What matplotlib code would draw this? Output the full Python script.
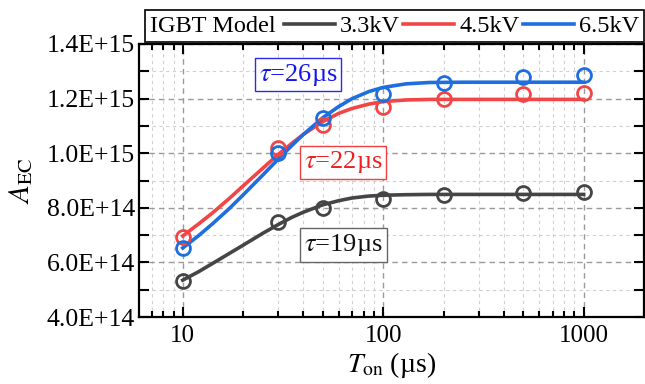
import matplotlib
matplotlib.use("Agg")
import matplotlib.pyplot as plt
from matplotlib.ticker import FixedLocator, MultipleLocator, FuncFormatter, LogLocator, NullFormatter
from matplotlib.offsetbox import HPacker

plt.rcParams['font.family'] = ['Liberation Serif', 'DejaVu Serif']
plt.rcParams['mathtext.fontset'] = 'stix'

# ---- data (A_EC in units of 1E14) ----
ton_pts = [10, 30, 50, 100, 200, 500, 1000]
a_33 = [5.33, 7.47, 7.99, 8.31, 8.47, 8.55, 8.59]
a_45 = [6.94, 10.18, 11.03, 11.69, 11.99, 12.17, 12.20]
a_65 = [6.52, 10.00, 11.29, 12.17, 12.57, 12.79, 12.86]

# fitted curves
ton_fit = [10, 12, 14, 17, 20, 25, 30, 35, 40, 50, 60, 70, 85, 100, 130, 170, 250, 400, 1000]
fit_33 = [5.35, 5.66, 5.95, 6.32, 6.63, 7.06, 7.39, 7.65, 7.84, 8.11, 8.26, 8.36, 8.43, 8.46, 8.48, 8.49, 8.49, 8.49, 8.49]
fit_45 = [6.97, 7.41, 7.80, 8.33, 8.80, 9.44, 9.96, 10.36, 10.69, 11.16, 11.46, 11.64, 11.80, 11.89, 11.95, 11.97, 11.97, 11.97, 11.97]
fit_65 = [6.53, 6.98, 7.40, 7.96, 8.47, 9.19, 9.79, 10.28, 10.69, 11.30, 11.71, 12.00, 12.26, 12.41, 12.54, 12.59, 12.60, 12.60, 12.60]

series_labels = ['3.3kV', '4.5kV', '6.5kV']
series_colors = ['#454545', '#F24545', '#1E6EE0']
tau_labels = [r'$\tau$=19µs', r'$\tau$=22µs', r'$\tau$=26µs']
tau_text_colors = ['#111111', '#F02020', '#1515F0']
tau_edge_colors = ['#666666', '#F04040', '#2a2aF0']
tau_pos_px = [(343.5, 245), (343, 162.5), (298, 74.5)]

scale = 1e14
W, H = 645, 384
fig = plt.figure(figsize=(W / 100, H / 100), dpi=100)
ax = fig.add_axes([139 / W, 1 - 317 / H, (644 - 139) / W, (317 - 44) / H])

pts = [a_33, a_45, a_65]
fits = [fit_33, fit_45, fit_65]
handles = []
for lab, col, p, f in zip(series_labels, series_colors, pts, fits):
    ln, = ax.plot(ton_fit, [v * scale for v in f], color=col, lw=2.6, zorder=3, label=lab)
    ax.plot(ton_pts, [v * scale for v in p], linestyle='none', marker='o', ms=10,
            mfc='none', mec=col, mew=2.0, zorder=4)
    handles.append(ln)

ax.set_xscale('log')
ax.set_xlim(6.05, 2000)
ax.set_ylim(4e14, 1.4e15)
ax.xaxis.set_major_locator(FixedLocator([10, 100, 1000]))
ax.xaxis.set_major_formatter(FuncFormatter(lambda v, p: f'{int(round(v))}'))
ax.xaxis.set_minor_locator(LogLocator(base=10, subs=range(2, 10)))
ax.xaxis.set_minor_formatter(NullFormatter())
ax.yaxis.set_major_locator(MultipleLocator(2e14))
ax.yaxis.set_minor_locator(MultipleLocator(1e14))
ax.yaxis.set_major_formatter(FuncFormatter(lambda v, p: f'{v:.1E}'))

ax.tick_params(axis='both', which='both', direction='in', top=True, right=True, width=1.5)
ax.tick_params(axis='x', which='major', length=7, labelsize=18, pad=6)
ax.tick_params(axis='x', which='minor', length=4)
ax.tick_params(axis='y', which='major', length=7, labelsize=18.5, pad=3)
ax.tick_params(axis='y', which='minor', length=7)
for s in ax.spines.values():
    s.set_linewidth(1.6)

ax.grid(True, which='major', linestyle=(0, (4, 3)), color='#9a9a9a', lw=1.0, zorder=0)
ax.grid(True, which='minor', linestyle=(0, (3, 3)), color='#d0d0d0', lw=0.8, zorder=0)
ax.set_axisbelow(True)

ax.set_xlabel(r'$T_{\mathrm{on}}$ (µs)', fontsize=20, labelpad=2)
ax.set_ylabel(r'$A_{\mathrm{EC}}$', fontsize=21, labelpad=8)

for t, tc, ec, (px, py) in zip(tau_labels, tau_text_colors, tau_edge_colors, tau_pos_px):
    fig.text(px / W, 1 - py / H, t, fontsize=19, color=tc, ha='center', va='center',
             bbox=dict(boxstyle='square,pad=0.15', fc='white', ec=ec, lw=1.0), zorder=6)

leg = fig.legend(handles=handles, labels=series_labels, ncol=3, title='IGBT Model',
                 loc='lower left', bbox_to_anchor=(145 / W, 1 - 42 / H), borderaxespad=0,
                 fontsize=17.5, title_fontsize=17.5, handlelength=2.1, handletextpad=0.2,
                 columnspacing=0.15, borderpad=0.2, fancybox=False, framealpha=1,
                 edgecolor='black')
leg.get_frame().set_linewidth(1.2)
try:
    old = leg._legend_box
    newbox = HPacker(pad=old.pad, sep=6, align='center',
                     children=[leg._legend_title_box, leg._legend_handle_box])
    newbox.set_figure(fig)
    leg._legend_box = newbox
    leg._set_loc(leg._loc_real)
except Exception:
    pass

fig.savefig('out.png', dpi=100)
